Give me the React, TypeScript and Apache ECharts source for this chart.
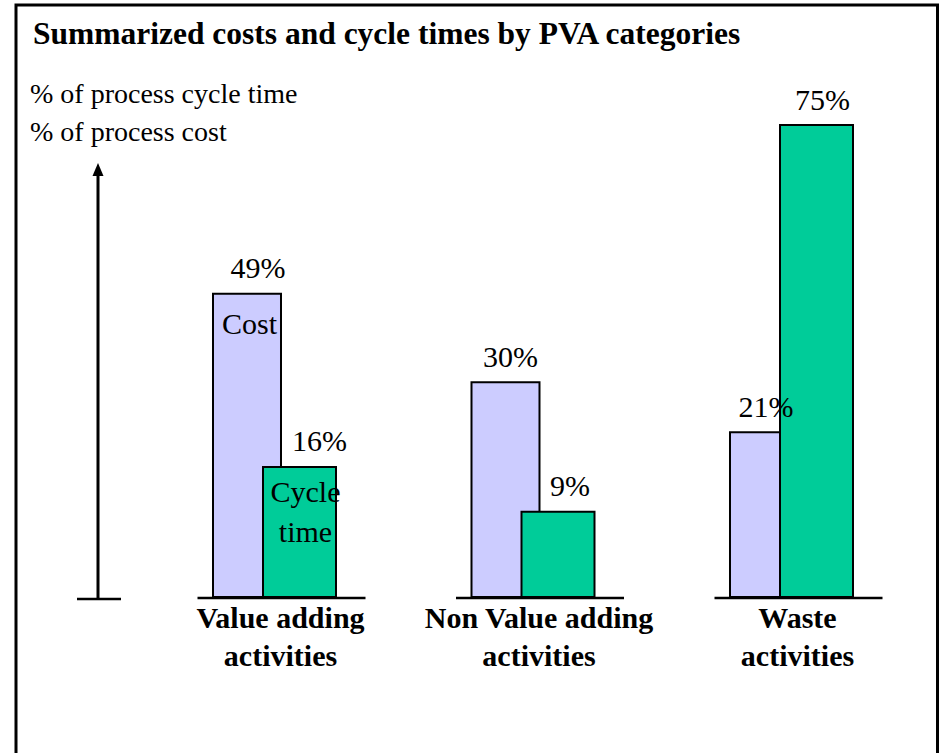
import React, { useEffect, useRef } from "react";
import * as echarts from "echarts";

const categories = [
  "Value adding\nactivities",
  "Non Value adding\nactivities",
  "Waste\nactivities",
];
// Percentages printed above the bars
const costShare = [49, 30, 21];
const cycleShare = [16, 9, 75];
const costBarHeight = [48.3, 34.3, 26.4];
const cycleBarHeight = [20.9, 13.8, 75];

const titleText = "Summarized costs and cycle times by PVA categories";
const yNameLines = ["% of process cycle time", "% of process cost"];

const SERIF = "'Times New Roman', 'Liberation Serif', serif";
const costLabelDx = [11, 5, 2];
const cycleLabelDx = [20, 12, 6];

export default function App() {
  const ref = useRef<HTMLDivElement>(null);
  useEffect(() => {
    if (!ref.current) return;
    const chart = echarts.init(ref.current, undefined, { renderer: "svg" });
    const labelStyle = {
      show: true,
      position: "top",
      distance: 10,
      fontSize: 30,
      lineHeight: 30,
      fontFamily: SERIF,
      color: "#000",
    };
    chart.setOption({
      animation: false,
      backgroundColor: "#fff",
      title: {
        text: titleText,
        left: 28,
        top: 12,
        textStyle: {
          fontFamily: SERIF,
          fontWeight: "bold",
          fontSize: 31.5,
          lineHeight: 32,
          color: "#000",
        },
      },
      grid: { left: 145.25, right: 19.25, top: 124, bottom: 155 },
      xAxis: {
        type: "category",
        data: categories,
        axisLine: { show: false },
        axisTick: { show: false },
        axisLabel: {
          margin: 0,
          fontFamily: SERIF,
          fontWeight: "bold",
          fontSize: 30,
          lineHeight: 38,
          color: "#000",
          padding: [0, 0, 0, 12],
          interval: 0,
        },
      },
      yAxis: { type: "value", min: 0, max: 75, show: false },
      series: [
        {
          name: "Cost",
          type: "bar",
          barWidth: 70,
          barGap: "-28.571%",
          itemStyle: { color: "#CCCCFF", borderColor: "#000", borderWidth: 2 },
          label: {
            ...labelStyle,
            formatter: (p: any) => costShare[p.dataIndex] + "%",
          },
          data: costBarHeight.map((v, i) => ({
            value: v,
            label: { offset: [costLabelDx[i], 0] },
          })),
        },
        {
          name: "Cycle time",
          type: "bar",
          barWidth: 75,
          barGap: "-28.571%",
          itemStyle: { color: "#00CC99", borderColor: "#000", borderWidth: 2 },
          label: {
            ...labelStyle,
            formatter: (p: any) => cycleShare[p.dataIndex] + "%",
          },
          data: cycleBarHeight.map((v, i) => ({
            value: v,
            label: { offset: [cycleLabelDx[i], 0] },
          })),
        },
        {
          type: "custom",
          z: 5,
          silent: true,
          encode: { x: 0, y: 1 },
          data: categories.map((_, i) => [i, 0]),
          renderItem: (params: any, api: any) => {
            const i = api.value(0);
            const [cx, cy] = api.coord([i, 0]);
            const children: any[] = [
              {
                type: "line",
                shape: { x1: cx - 77, y1: cy, x2: cx + 91, y2: cy },
                style: { stroke: "#000", lineWidth: 2.5 },
              },
            ];
            if (i === 0) {
              const costTop = api.coord([i, costBarHeight[0]])[1];
              const cycTop = api.coord([i, cycleBarHeight[0]])[1];
              const ts = {
                fontSize: 30,
                fontFamily: SERIF,
                fill: "#000",
                align: "center",
                verticalAlign: "middle",
              };
              children.push({ type: "text", x: cx - 25, y: costTop + 31, style: { ...ts, text: "Cost" } });
              children.push({ type: "text", x: cx + 31, y: cycTop + 26, style: { ...ts, text: "Cycle" } });
              children.push({ type: "text", x: cx + 31, y: cycTop + 66, style: { ...ts, text: "time" } });
            }
            return { type: "group", children };
          },
        },
      ],
      graphic: [
        {
          type: "rect",
          shape: { x: 16, y: 5, width: 921.5, height: 800 },
          style: { fill: "none", stroke: "#000", lineWidth: 3 },
          silent: true,
        },
        {
          type: "line",
          shape: { x1: 98, y1: 599, x2: 98, y2: 174 },
          style: { stroke: "#000", lineWidth: 3 },
        },
        {
          type: "polygon",
          shape: { points: [[92.5, 176], [103.5, 176], [98, 163]] },
          style: { fill: "#000" },
        },
        {
          type: "line",
          shape: { x1: 77, y1: 599, x2: 121, y2: 599 },
          style: { stroke: "#000", lineWidth: 2.5 },
        },
        {
          type: "text",
          x: 30,
          y: 93.5,
          style: { text: yNameLines[0], fontSize: 28, fontFamily: SERIF, fill: "#000", verticalAlign: "middle" },
        },
        {
          type: "text",
          x: 30,
          y: 131.5,
          style: { text: yNameLines[1], fontSize: 28, fontFamily: SERIF, fill: "#000", verticalAlign: "middle" },
        },
      ],
    });
    return () => chart.dispose();
  }, []);
  return (
    <div
      ref={ref}
      style={{ position: "absolute", left: 0, top: 0, width: 940, height: 753 }}
    />
  );
}
